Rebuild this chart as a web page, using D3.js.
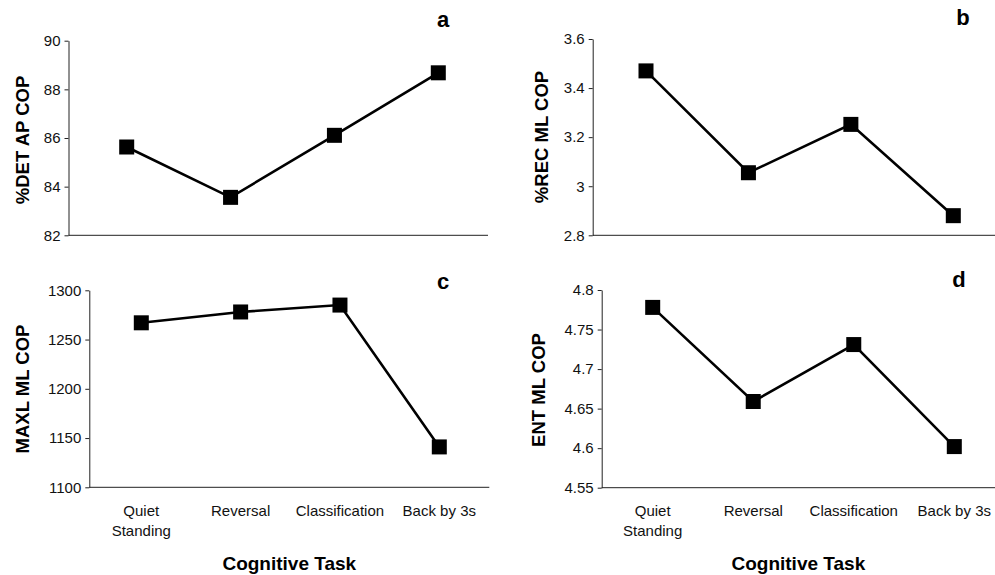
<!DOCTYPE html>
<html><head><meta charset="utf-8">
<script src="https://cdn.jsdelivr.net/npm/d3@7"></script>
<style>body{margin:0;background:#fff}svg{display:block;font-family:"Liberation Sans",Arial,sans-serif}</style>
</head><body><svg id="c" width="995" height="575"></svg>
<script>
const categories = ["Quiet Standing", "Reversal", "Classification", "Back by 3s"];
const detAP = [85.63, 83.56, 86.11, 88.68];
const recML = [3.47, 3.055, 3.252, 2.88];
const maxlML = [1267, 1278, 1285, 1141];
const entML = [4.778, 4.659, 4.731, 4.602];
const ticksA = [82, 84, 86, 88, 90];
const ticksB = [2.8, 3, 3.2, 3.4, 3.6];
const ticksC = [1100, 1150, 1200, 1250, 1300];
const ticksD = [4.55, 4.6, 4.65, 4.7, 4.75, 4.8];

const svg = d3.select("#c");
const panels = [
  {letter:"a", title:"%DET AP COP", vals:detAP, ticks:ticksA, x0:68.5, x1:488, y0:40.7, y1:235.3, px:[126.7,438.3], lx:443, ly:27, tx:22, ty:140, showX:false},
  {letter:"b", title:"%REC ML COP", vals:recML, ticks:ticksB, x0:592.7, x1:995, y0:39, y1:235.3, px:[646,953.3], lx:963, ly:25, tx:541, ty:137, showX:false},
  {letter:"c", title:"MAXL ML COP", vals:maxlML, ticks:ticksC, x0:89.3, x1:489.3, y0:290.3, y1:487.3, px:[141.3,439.3], lx:443, ly:289, tx:22, ty:389, showX:true},
  {letter:"d", title:"ENT ML COP", vals:entML, ticks:ticksD, x0:601.7, x1:995, y0:290, y1:487.7, px:[652.7,954.3], lx:959, ly:287, tx:538, ty:390, showX:true}
];
const fmt = v => String(+v.toFixed(3));
panels.forEach(p => {
  const y = d3.scaleLinear().domain([d3.min(p.ticks), d3.max(p.ticks)]).range([p.y1, p.y0]);
  const x = d3.scalePoint().domain(categories).range(p.px);
  const g = svg.append("g");
  const ax = g.append("g").attr("transform", `translate(${p.x0},0)`)
    .call(d3.axisLeft(y).tickValues(p.ticks).tickFormat(fmt).tickSize(4).tickSizeOuter(0).tickPadding(4));
  ax.select(".domain").attr("stroke", "#222");
  ax.selectAll(".tick line").attr("stroke", "#222");
  ax.selectAll("text").attr("font-size", 15).attr("fill", "#111").attr("font-family", "Liberation Sans, Arial, sans-serif");
  g.append("line").attr("x1", p.x0).attr("x2", p.x1).attr("y1", p.y1).attr("y2", p.y1).attr("stroke", "#222");
  const line = d3.line().x((d,i) => x(categories[i])).y(d => y(d));
  g.append("path").datum(p.vals).attr("d", line).attr("fill", "none").attr("stroke", "#000").attr("stroke-width", 2.6);
  g.selectAll("rect.m").data(p.vals).join("rect").attr("class","m")
    .attr("x", (d,i) => x(categories[i]) - 7.5).attr("y", d => y(d) - 7.5)
    .attr("width", 15).attr("height", 15).attr("fill", "#000");
  g.append("text").attr("x", p.lx).attr("y", p.ly).attr("text-anchor","middle")
    .attr("font-size", 22).attr("font-weight","bold").text(p.letter);
  g.append("text").attr("transform", `translate(${p.tx},${p.ty}) rotate(-90)`)
    .attr("text-anchor","middle").attr("dominant-baseline","central")
    .attr("font-size", 18.5).attr("font-weight","bold").text(p.title);
  if (p.showX) {
    categories.forEach(c => {
      const parts = c === "Quiet Standing" ? ["Quiet","Standing"] : [c];
      const t = g.append("text").attr("x", x(c)).attr("y", 516).attr("text-anchor","middle").attr("font-size", 15).attr("fill","#111");
      parts.forEach((s,i) => t.append("tspan").attr("x", x(c)).attr("dy", i ? 20 : 0).text(s));
    });
    g.append("text").attr("x", (p.x0 + p.x1)/2).attr("y", 570).attr("text-anchor","middle")
      .attr("font-size", 19).attr("font-weight","bold").text("Cognitive Task");
  }
});
</script></body></html>
